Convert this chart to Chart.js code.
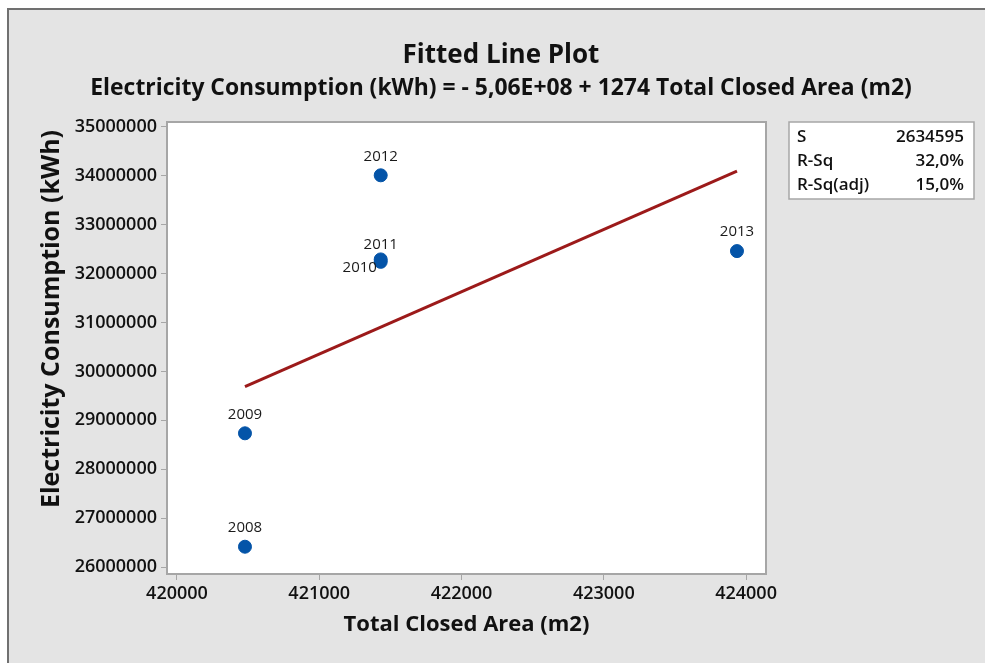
<!DOCTYPE html>
<html>
<head>
<meta charset="utf-8">
<script src="https://cdn.jsdelivr.net/npm/chart.js@4/dist/chart.umd.min.js"></script>
<style>
  html, body { margin: 0; padding: 0; background: #ffffff; }
  #wrap { width: 985px; height: 663px; }
</style>
</head>
<body>
<div id="wrap"><canvas id="chart" width="985" height="663"></canvas></div>
<script>
// Observations: one point per year
const years       = ['2008', '2009', '2010', '2011', '2012', '2013'];
const closedArea  = [420478, 420478, 421432, 421432, 421432, 423936];
const consumption = [26415000, 28734000, 32240000, 32290000, 34010000, 32460000];

// Regression equation shown in the subtitle
const fitIntercept = -5.06e8;
const fitSlope = 1274;

// Axis ticks
const xTicks = [420000, 421000, 422000, 423000, 424000];
const yTicks = [26000000, 27000000, 28000000, 29000000, 30000000,
                31000000, 32000000, 33000000, 34000000, 35000000];

// Model summary
const statNames  = ['S', 'R-Sq', 'R-Sq(adj)'];
const statValues = ['2634595', '32,0%', '15,0%'];

const FONT = "'Open Sans', 'Noto Sans', sans-serif";

// Fitted line drawn over the observed x range
const xMin = Math.min(...closedArea);
const xMax = Math.max(...closedArea);
const fitPoints = [xMin, xMax].map(x => ({ x: x, y: fitIntercept + fitSlope * x }));

const points = closedArea.map((x, i) => ({ x: x, y: consumption[i] }));

// Where each year label sits relative to its marker
const labelOffsets = {
  '2010': { dx: -21, dy: 6 },
  '2011': { dx: 0, dy: -15 }
};
const defaultLabelOffset = { dx: 0, dy: -19 };

const framePlugin = {
  id: 'frame',
  beforeDraw(chart) {
    const ctx = chart.ctx;
    const { width, height } = chart;
    ctx.save();
    ctx.fillStyle = '#ffffff';
    ctx.fillRect(0, 0, width, height);
    ctx.fillStyle = '#707070';
    ctx.fillRect(7, 8, width - 7, height - 8);
    ctx.fillStyle = '#e4e4e4';
    ctx.fillRect(9, 10, width - 9, height - 10);
    const a = chart.chartArea;
    ctx.fillStyle = '#ffffff';
    ctx.fillRect(a.left, a.top, a.right - a.left, a.bottom - a.top);
    ctx.restore();
  },
  beforeDatasetsDraw(chart) {
    const ctx = chart.ctx;
    const a = chart.chartArea;
    ctx.save();
    ctx.strokeStyle = '#a6a6a6';
    ctx.lineWidth = 2;
    ctx.strokeRect(a.left, a.top, a.right - a.left, a.bottom - a.top);
    ctx.restore();
  },
  afterDraw(chart) {
    const ctx = chart.ctx;
    ctx.save();
    ctx.fillStyle = '#111111';
    ctx.textAlign = 'center';
    ctx.textBaseline = 'alphabetic';
    ctx.font = `700 26px ${FONT}`;
    ctx.fillText('Fitted Line Plot', 501, 63);
    ctx.font = `700 22.9px ${FONT}`;
    ctx.fillText('Electricity Consumption (kWh) = - 5,06E+08 + 1274 Total Closed Area (m2)', 501, 95);

    // Vertical axis title
    ctx.save();
    ctx.translate(52, 319);
    ctx.rotate(-Math.PI / 2);
    ctx.textBaseline = 'middle';
    ctx.font = `700 25px ${FONT}`;
    ctx.fillText('Electricity Consumption (kWh)', 0, 0);
    ctx.restore();

    // Summary box
    const bx = 789, by = 122, bw = 185, bh = 77;
    ctx.fillStyle = '#ffffff';
    ctx.fillRect(bx, by, bw, bh);
    ctx.strokeStyle = '#a6a6a6';
    ctx.lineWidth = 1.5;
    ctx.strokeRect(bx, by, bw, bh);
    ctx.fillStyle = '#111111';
    ctx.font = `600 17px ${FONT}`;
    ctx.textBaseline = 'middle';
    statNames.forEach((name, i) => {
      const y = 137 + i * 24;
      ctx.textAlign = 'left';
      ctx.fillText(name, 797, y);
      ctx.textAlign = 'right';
      ctx.fillText(statValues[i], 964, y);
    });
    ctx.restore();
  }
};

const yearLabelPlugin = {
  id: 'yearLabels',
  afterDatasetsDraw(chart) {
    const meta = chart.getDatasetMeta(1);
    const ctx = chart.ctx;
    ctx.save();
    ctx.font = `400 15px ${FONT}`;
    ctx.fillStyle = '#1a1a1a';
    ctx.textAlign = 'center';
    ctx.textBaseline = 'middle';
    meta.data.forEach((el, i) => {
      const off = labelOffsets[years[i]] || defaultLabelOffset;
      ctx.fillText(years[i], el.x + off.dx, el.y + off.dy);
    });
    ctx.restore();
  }
};

new Chart(document.getElementById('chart'), {
  type: 'scatter',
  data: {
    datasets: [
      {
        type: 'line',
        label: 'Fit',
        data: fitPoints,
        borderColor: '#9c1a1a',
        borderWidth: 3,
        pointRadius: 0,
        fill: false,
        order: 2
      },
      {
        label: 'Electricity Consumption (kWh)',
        data: points,
        backgroundColor: '#0454a8',
        borderColor: '#0454a8',
        pointRadius: 6.5,
        pointHoverRadius: 6.5,
        order: 1
      }
    ]
  },
  options: {
    responsive: false,
    devicePixelRatio: 1,
    animation: false,
    events: [],
    layout: { padding: { left: 0, top: 122, right: 219, bottom: 0 } },
    plugins: {
      legend: { display: false },
      title: { display: false },
      tooltip: { enabled: false }
    },
    scales: {
      x: {
        type: 'linear',
        min: 419930,
        max: 424140,
        afterBuildTicks(scale) { scale.ticks = xTicks.map(v => ({ value: v })); },
        afterFit(scale) { scale.height = 89; },
        border: { display: false },
        grid: { drawOnChartArea: false, drawTicks: true, tickLength: 6, tickColor: '#a6a6a6', tickWidth: 1 },
        ticks: {
          padding: 3,
          color: '#111111',
          font: { family: FONT, size: 18, weight: '600' },
          callback: v => String(v)
        },
        title: {
          display: true,
          text: 'Total Closed Area (m2)',
          color: '#111111',
          font: { family: FONT, size: 22, weight: '700' },
          padding: { top: 25, bottom: 25 }
        }
      },
      y: {
        type: 'linear',
        min: 25857000,
        max: 35100000,
        afterBuildTicks(scale) { scale.ticks = yTicks.map(v => ({ value: v })); },
        afterFit(scale) { scale.width = 167; },
        border: { display: false },
        grid: { drawOnChartArea: false, drawTicks: true, tickLength: 6, tickColor: '#a6a6a6', tickWidth: 1 },
        ticks: {
          padding: 4,
          color: '#111111',
          font: { family: FONT, size: 18, weight: '600' },
          callback: v => String(v)
        },
        title: { display: false }
      }
    }
  },
  plugins: [framePlugin, yearLabelPlugin]
});
</script>
</body>
</html>
